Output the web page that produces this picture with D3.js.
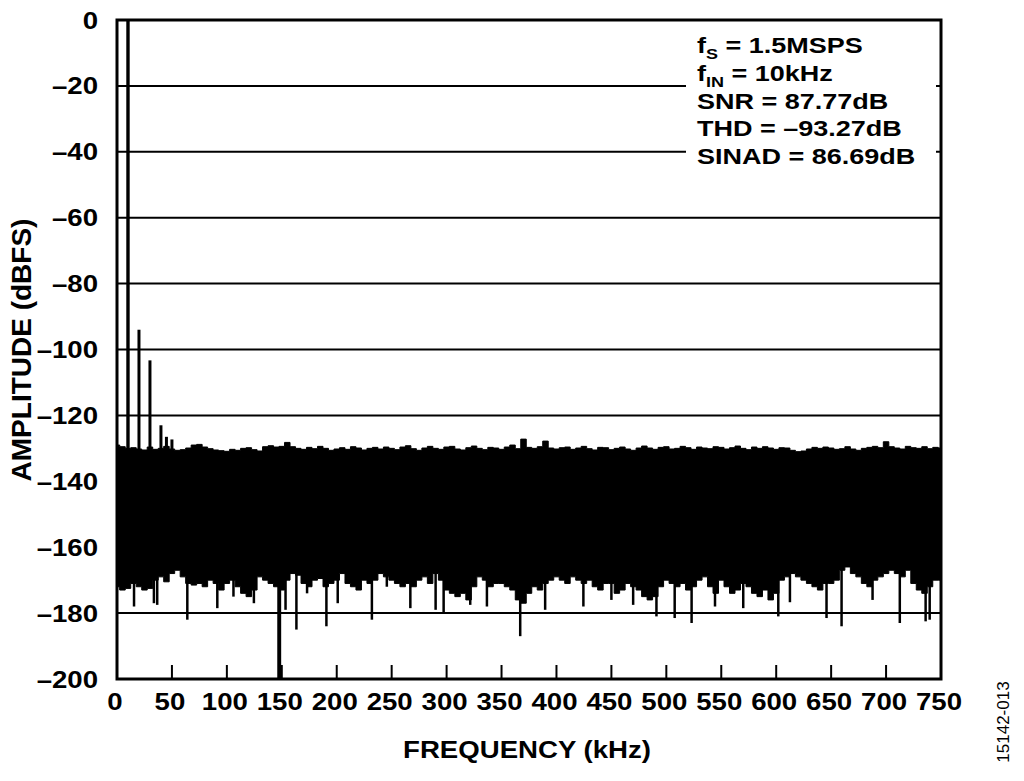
<!DOCTYPE html>
<html><head><meta charset="utf-8">
<script src="https://cdn.jsdelivr.net/npm/d3@7/dist/d3.min.js"></script>
<style>body{margin:0;background:#fff}svg{display:block}text{font-family:"Liberation Sans",Arial,sans-serif}</style>
</head><body>
<script>
// ---- data ----
const xTicks = [0,50,100,150,200,250,300,350,400,450,500,550,600,650,700,750];
const yTicks = [0,-20,-40,-60,-80,-100,-120,-140,-160,-180,-200];
const binStep = 5; // kHz between noise samples
const noiseTop = [
-129.0,-129.5,-130.0,-129.8,-130.2,-130.5,-129.6,-130.3,-130.0,-129.4,
-130.2,-130.6,-130.4,-129.9,-129.0,-128.8,-129.6,-130.1,-130.5,-130.7,
-130.9,-130.3,-130.6,-130.0,-129.8,-130.4,-130.8,-129.5,-129.2,-129.6,
-129.4,-128.2,-129.5,-130.0,-130.3,-129.7,-130.1,-129.4,-130.0,-130.6,
-130.2,-129.8,-130.3,-129.5,-129.9,-130.5,-130.0,-129.7,-130.2,-129.6,
-130.0,-130.4,-129.6,-129.2,-130.1,-130.6,-129.9,-129.4,-130.0,-130.3,
-129.6,-129.4,-130.2,-130.5,-129.8,-129.3,-130.0,-130.4,-129.7,-129.9,
-130.3,-129.6,-129.0,-130.1,-127.2,-129.7,-130.0,-129.5,-127.8,-129.9,
-130.2,-129.8,-129.6,-130.3,-129.9,-129.4,-130.1,-130.5,-129.7,-129.8,
-130.4,-130.0,-129.6,-130.2,-130.6,-129.9,-129.3,-129.9,-130.3,-129.7,
-129.5,-130.2,-130.0,-129.4,-129.8,-130.3,-129.6,-129.9,-130.1,-129.5,
-129.7,-130.2,-129.8,-129.3,-130.0,-130.4,-129.6,-130.0,-129.5,-129.9,
-130.3,-129.8,-129.9,-130.6,-131.0,-130.8,-130.2,-129.7,-130.0,-129.6,
-129.9,-130.3,-130.1,-129.5,-130.2,-130.6,-130.0,-129.7,-129.4,-129.8,
-128.0,-129.5,-129.9,-130.2,-129.4,-129.8,-130.0,-129.5,-130.1,-129.7,
-129.9];
const noiseBottom = [
-172,-173,-172.5,-171,-172,-173,-172.5,-170,-169,-170.5,
-168,-167,-169,-171,-171.5,-171,-172,-170,-171,-173,
-171,-170,-172,-174,-175,-173,-169,-170,-171,-172,
-173,-170,-168,-168.5,-171,-172,-170,-169.5,-172,-171,
-170,-168,-171,-172,-173,-170,-171,-170,-168,-169,
-170,-171,-172,-171,-172,-170,-169,-171,-168,-170,
-173,-174,-175,-174,-176,-172,-169,-170,-172,-171,
-171,-172,-173,-176,-177,-174,-172,-173,-171,-170,
-169,-170,-171,-169,-170,-171,-170,-172,-173,-171,
-171,-174,-173,-171,-172,-173,-175,-176,-175,-172,
-170,-171,-172,-171,-173,-172,-170,-169,-172,-174,
-170,-172,-174,-173,-171,-172,-174,-175,-173,-176,
-174,-170,-169,-168,-169,-170,-171,-172,-173,-171,
-171,-170,-167,-166,-168,-169,-171,-172,-170,-169,
-168,-167,-168,-169,-167,-171,-173,-174,-172,-170,
-170];
// fundamental and harmonic tones (kHz, dBFS)
const toneFreq = [10, 20, 30, 40, 45, 50];
const toneDb   = [0, -94, -103.3, -123, -126.5, -127.3];
// deep downward noise spikes (kHz, dBFS)
const spikeFreq = [3.4,15.5,33.6,36.6,64,91.3,106,124.6,147,148.3,153.4,163.3,173,190.6,200.9,232,245.6,
  267,290,297.3,321.5,336.7,367,389.7,424.5,450,469.8,491,507.6,
  523,544.3,570,601.9,612.5,645.8,659.5,687.7,712.5,736,739.7];
const spikeDb = [-173,-178,-177,-177.5,-182,-178.5,-175,-177,-200,-200,-179,-185,-174,-184,-177,-182,-172,
  -178.5,-179,-180,-177.5,-178,-187,-179,-178,-176,-177.5,-181,-181.5,
  -183,-178,-178.5,-181,-176.7,-181.5,-184,-176,-183,-182.5,-182];
const legendLines = [
  {main:"f", sub:"S", rest:" = 1.5MSPS"},
  {main:"f", sub:"IN", rest:" = 10kHz"},
  {main:"SNR = 87.77dB", sub:"", rest:""},
  {main:"THD = \u201393.27dB", sub:"", rest:""},
  {main:"SINAD = 86.69dB", sub:"", rest:""}
];
const xTitle = "FREQUENCY (kHz)";
const yTitle = "AMPLITUDE (dBFS)";
const figId = "15142-013";

// ---- chart ----
const W = 1024, H = 781;
const svg = d3.select("body").append("svg").attr("width", W).attr("height", H);
svg.append("rect").attr("width", W).attr("height", H).attr("fill", "#fff");
const x = d3.scaleLinear().domain([0, 750]).range([117, 941]);
const y = d3.scaleLinear().domain([0, -200]).range([20, 679]);

// gridlines
svg.append("g").selectAll("line").data(yTicks.filter(d => d < 0 && d > -200)).join("line")
  .attr("x1", x(0)).attr("x2", x(750)).attr("y1", d => y(d)).attr("y2", d => y(d))
  .attr("stroke", "#000").attr("stroke-width", 2);

// noise band
const freqs = noiseTop.map((_, i) => i * binStep);
const area = d3.area()
  .x((d, i) => x(freqs[i]))
  .y1((d, i) => y(noiseTop[i]))
  .y0((d, i) => y(noiseBottom[i]))
  .curve(d3.curveStep);
svg.append("path").datum(noiseTop).attr("d", area).attr("fill", "#000")
  .attr("stroke", "#000").attr("stroke-width", 1);

// spikes
svg.append("g").selectAll("line").data(spikeFreq).join("line")
  .attr("x1", d => x(d)).attr("x2", d => x(d))
  .attr("y1", y(-160)).attr("y2", (d, i) => y(spikeDb[i]))
  .attr("stroke", "#000").attr("stroke-width", 2.5);

// tones
svg.append("g").selectAll("line").data(toneFreq).join("line")
  .attr("x1", d => x(d)).attr("x2", d => x(d))
  .attr("y1", y(-135)).attr("y2", (d, i) => y(toneDb[i]))
  .attr("stroke", "#000").attr("stroke-width", (d, i) => i === 0 ? 3.4 : 3);

// legend box
svg.append("rect").attr("x", 686).attr("y", 22).attr("width", 250).attr("height", 156).attr("fill", "#fff");
const leg = svg.append("g");
legendLines.forEach((l, i) => {
  const t = leg.append("text")
    .attr("transform", `translate(697,${53 + i * 27.8}) scale(1.2,1)`)
    .attr("font-size", 22.5).attr("font-weight", "bold").attr("fill", "#000");
  t.append("tspan").text(l.main);
  if (l.sub) {
    t.append("tspan").attr("font-size", 15).attr("dy", 6).text(l.sub);
    t.append("tspan").attr("dy", -6).text(l.rest);
  }
});

// frame
svg.append("rect").attr("x", x(0)).attr("y", y(0)).attr("width", x(750) - x(0)).attr("height", y(-200) - y(0))
  .attr("fill", "none").attr("stroke", "#000").attr("stroke-width", 3);

// bottom ticks (inside)
svg.append("g").selectAll("line").data(xTicks.filter(d => d > 0 && d < 750)).join("line")
  .attr("x1", d => x(d)).attr("x2", d => x(d)).attr("y1", y(-200)).attr("y2", y(-200) - 14)
  .attr("stroke", "#000").attr("stroke-width", 2);

// x tick labels
svg.append("g").selectAll("text").data(xTicks).join("text")
  .attr("transform", d => `translate(${x(d) - 2},710) scale(1.2,1)`)
  .attr("text-anchor", "middle").attr("font-size", 23).attr("font-weight", "bold")
  .text(d => d);

// y tick labels
svg.append("g").selectAll("text").data(yTicks).join("text")
  .attr("transform", d => `translate(98,${y(d) + 8.5}) scale(1.2,1)`)
  .attr("text-anchor", "end").attr("font-size", 23).attr("font-weight", "bold")
  .text(d => d === 0 ? "0" : "\u2013" + Math.abs(d));

// titles
svg.append("text").attr("transform", "translate(527,758) scale(1.15,1)")
  .attr("text-anchor", "middle").attr("font-size", 24).attr("font-weight", "bold").text(xTitle);
svg.append("text").attr("transform", "translate(31,350) rotate(-90)")
  .attr("text-anchor", "middle").attr("font-size", 28).attr("font-weight", "bold").text(yTitle);
svg.append("text").attr("transform", "translate(1009,722) rotate(-90)")
  .attr("text-anchor", "middle").attr("font-size", 17).text(figId);
</script>
</body></html>
